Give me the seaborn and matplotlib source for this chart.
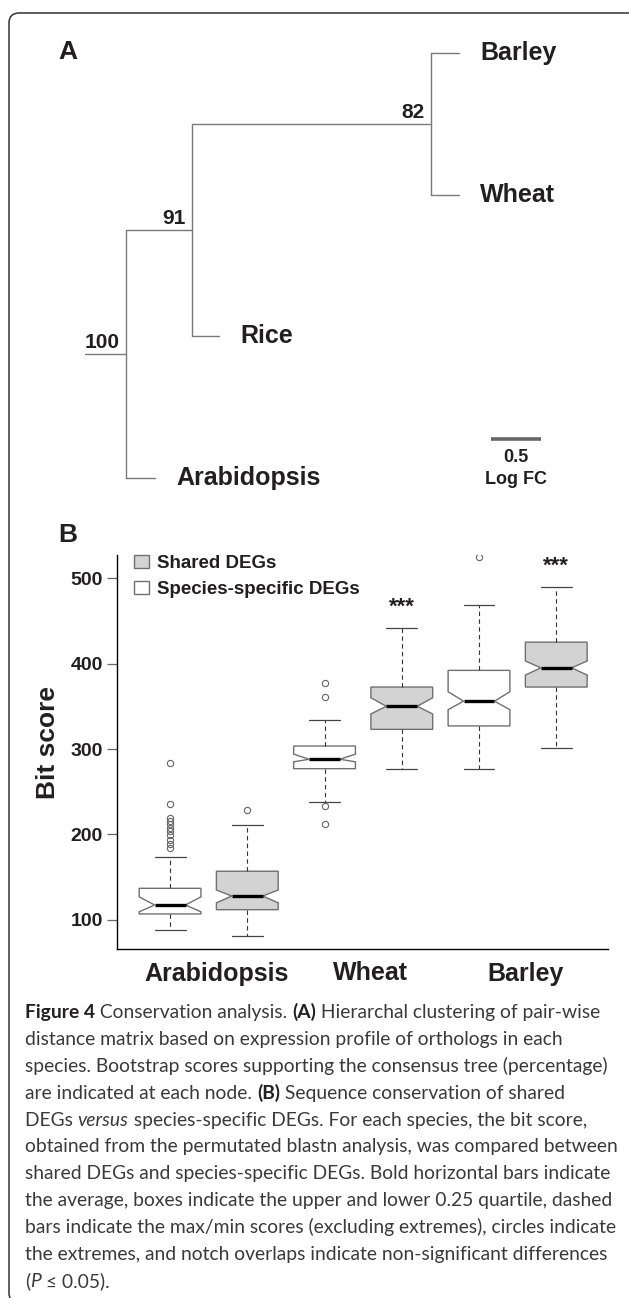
import matplotlib
matplotlib.use("Agg")
import matplotlib.pyplot as plt
from matplotlib.patches import FancyBboxPatch, Patch
import seaborn as sns
import numpy as np

# panel A: consensus tree (branch lengths in Log FC units)
node_names = ["root", "n91", "n82", "Barley", "Wheat", "Rice", "Arabidopsis"]
node_parent = [None, "root", "n91", "n82", "n82", "n91", "root"]
branch_len = [0.41, 0.66, 2.39, 0.28, 0.28, 0.27, 0.29]
bootstrap = {"root": "100", "n91": "91", "n82": "82"}
leaf_order = ["Barley", "Wheat", "Rice", "Arabidopsis"]
scale_len = 0.5

# panel B: bit score box stats, one entry per box (species-specific, shared) x species
species = ["Arabidopsis", "Wheat", "Barley"]
deg_groups = ["Species-specific DEGs", "Shared DEGs"]
whislo = [88, 81, 238, 277, 277, 301]
q1 = [107, 112, 277, 323, 327, 372.5]
med = [117.5, 128, 288, 350, 356, 395]
q3 = [137, 157, 303.5, 372.5, 392, 425]
whishi = [174, 211, 334, 441.5, 468, 489.5]
cilo = [109.5, 120, 285, 341, 346, 386.5]
cihi = [127, 135, 294, 360, 367, 403]
fliers = [[184, 189, 194, 199, 204, 208, 212, 216, 219, 236, 284],
          [229],
          [212, 233, 361, 377],
          [],
          [525],
          []]
signif = ["", "", "", "***", "", "***"]

caption_lines = [
    [("Figure 4", "bold"), (" Conservation analysis. ", "normal"), ("(A)", "bold"),
     (" Hierarchal clustering of pair-wise", "normal")],
    [("distance matrix based on expression profile of orthologs in each", "normal")],
    [("species. Bootstrap scores supporting the consensus tree (percentage)", "normal")],
    [("are indicated at each node. ", "normal"), ("(B)", "bold"),
     (" Sequence conservation of shared", "normal")],
    [("DEGs ", "normal"), ("versus", "italic"),
     (" species-specific DEGs. For each species, the bit score,", "normal")],
    [("obtained from the permutated blastn analysis, was compared between", "normal")],
    [("shared DEGs and species-specific DEGs. Bold horizontal bars indicate", "normal")],
    [("the average, boxes indicate the upper and lower 0.25 quartile, dashed", "normal")],
    [("bars indicate the max/min scores (excluding extremes), circles indicate", "normal")],
    [("the extremes, and notch overlaps indicate non-significant differences", "normal")],
    [("(", "normal"), ("P", "italic"), (" \u2264 0.05).", "normal")],
]

sns.set_theme(style="white")
plt.rcParams['font.family'] = ['Liberation Sans', 'DejaVu Sans']
ink = '#231f20'

W, H = 629, 1298
fig = plt.figure(figsize=(W / 100, H / 100), dpi=100)

# rounded frame around the whole figure (right and bottom edges run off the page)
frame = FancyBboxPatch((0.09, -0.05), 6.6, 12.9, boxstyle="round,pad=0,rounding_size=0.1",
                       transform=fig.dpi_scale_trans, facecolor='none', edgecolor='#333333', lw=1.1,
                       zorder=0)
fig.patches.append(frame)

fig.text(58 / W, 1 - 52 / H, "A", fontsize=19, fontweight='bold', color=ink, ha='left', va='center')
fig.text(58 / W, 1 - 535 / H, "B", fontsize=19, fontweight='bold', color=ink, ha='left', va='center')

# ---------------- panel A ----------------
axt = fig.add_axes([0.02, 1 - 540 / H, 0.96, 540 / H])
axt.axis('off')
axt.set_xlim(-0.85 + 0.02 * 6.29, 5.44 - 0.02 * 6.29)
axt.set_ylim(3.437, -0.374)

xpos = {}
for name, par, bl in zip(node_names, node_parent, branch_len):
    xpos[name] = bl + (xpos[par] if par else 0)
children = {n: [c for c, p in zip(node_names, node_parent) if p == n] for n in node_names}


def get_y(n):
    if n in leaf_order:
        return leaf_order.index(n)
    return np.mean([get_y(c) for c in children[n]])


ypos = {n: get_y(n) for n in node_names}
tree_col = '#7a7a7a'
# root stem
axt.plot([0, xpos["root"]], [ypos["root"]] * 2, color=tree_col, lw=1)
for name, par in zip(node_names, node_parent):
    if par is not None:
        axt.plot([xpos[par], xpos[name]], [ypos[name]] * 2, color=tree_col, lw=1)
    if children[name]:
        cy = [ypos[c] for c in children[name]]
        axt.plot([xpos[name]] * 2, [min(cy), max(cy)], color=tree_col, lw=1)

for node, lab in bootstrap.items():
    axt.annotate(lab, (xpos[node], ypos[node]), xytext=(-6, 6), textcoords='offset pixels',
                 ha='right', va='baseline', fontsize=15, fontweight='bold', color=ink)
for leaf in leaf_order:
    axt.annotate(leaf, (xpos[leaf], ypos[leaf]), xytext=(21, 0), textcoords='offset pixels',
                 ha='left', va='center', fontsize=18, fontweight='bold', color=ink)

# scale bar
sb_x0, sb_y = 4.06, 2.724
axt.plot([sb_x0, sb_x0 + scale_len], [sb_y, sb_y], color='#666666', lw=2.6, solid_capstyle='butt')
axt.annotate(f"{scale_len}", (sb_x0 + scale_len / 2, sb_y), xytext=(0, -19), textcoords='offset pixels',
             ha='center', va='center', fontsize=13, fontweight='bold', color=ink)
axt.annotate("Log FC", (sb_x0 + scale_len / 2, sb_y), xytext=(0, -41), textcoords='offset pixels',
             ha='center', va='center', fontsize=13, fontweight='bold', color=ink)

# ---------------- panel B ----------------
ax = fig.add_axes([117 / W, 1 - 949 / H, 491 / W, 394 / H])
positions = np.arange(1, len(med) + 1)
stats = [dict(whislo=whislo[i], q1=q1[i], med=med[i], q3=q3[i], whishi=whishi[i],
              cilo=cilo[i], cihi=cihi[i], fliers=fliers[i]) for i in range(len(med))]
bp = ax.bxp(stats, positions=positions, widths=0.8, shownotches=True, patch_artist=True,
            boxprops=dict(edgecolor='#707070', lw=1.0),
            medianprops=dict(color='black', lw=2.4, solid_capstyle='butt'),
            whiskerprops=dict(color='#333333', lw=0.8, linestyle=(0, (4, 3))),
            capprops=dict(color='#444444', lw=0.9),
            flierprops=dict(marker='o', markerfacecolor='none', markeredgecolor='#666666',
                            markersize=4.5, markeredgewidth=0.8))
group_colors = {"Species-specific DEGs": 'white', "Shared DEGs": '#d3d3d3'}
for i, patch in enumerate(bp['boxes']):
    patch.set_facecolor(group_colors[deg_groups[i % 2]])

for i, s in enumerate(signif):
    if s:
        ax.annotate(s, (positions[i], whishi[i]), xytext=(0, 15), textcoords='offset pixels',
                    ha='center', va='baseline', fontsize=16, fontweight='bold', color=ink)

ax.set_xlim(0.313, 6.67)
ax.set_ylim(66, 527)
ax.set_yticks([100, 200, 300, 400, 500])
ax.set_xticks(positions[::2] + 0.6)
ax.set_xticklabels(species)
for lab in ax.get_xticklabels():
    lab.set_fontsize(18)
    lab.set_fontweight('bold')
    lab.set_color(ink)
for lab in ax.get_yticklabels():
    lab.set_fontsize(14)
    lab.set_fontweight('bold')
    lab.set_color(ink)
ax.tick_params(axis='x', length=0, pad=9)
ax.tick_params(axis='y', length=7, width=0.9, color='#666666', pad=3, left=True)
ax.set_ylabel("Bit score", fontsize=19, fontweight='bold', color=ink, va='center')
ax.yaxis.set_label_coords(-0.1405, 0.523)
sns.despine(ax=ax)
for sp in ['left', 'bottom']:
    ax.spines[sp].set_color('black')
    ax.spines[sp].set_linewidth(1.0)

handles = [Patch(facecolor=group_colors[g], edgecolor='#707070', lw=1, label=g) for g in deg_groups[::-1]]
ax.legend(handles=handles, loc='upper left', bbox_to_anchor=(0.035, 1.0), frameon=False,
          prop=dict(weight='bold', size=13.5), handlelength=0.8, handleheight=0.7,
          handletextpad=0.4, labelspacing=0.48, borderpad=0, borderaxespad=0)
for t in ax.get_legend().get_texts():
    t.set_color(ink)

# ---------------- caption ----------------
cap = fig.add_axes([0.02, 0.02, 0.96, 0.96])
cap.axis('off')
cap.set_xlim(0.02 * W, 0.98 * W)
cap.set_ylim(0.98 * H, 0.02 * H)
cap_font = ['Lato', 'DejaVu Sans']
for k, line in enumerate(caption_lines):
    prev = None
    for seg, style in line:
        kw = dict(fontsize=13.9, family=cap_font, color='#3a3a3a',
                  fontweight='bold' if style == 'bold' else 'normal',
                  fontstyle='italic' if style == 'italic' else 'normal')
        if style == 'bold':
            kw['color'] = ink
        if prev is None:
            prev = cap.text(25, 1018 + 26.9 * k, seg, ha='left', va='baseline', **kw)
        else:
            prev = cap.annotate(seg, xy=(1, 0), xycoords=prev, ha='left', va='bottom',
                                annotation_clip=False, **kw)

fig.savefig("out.png", dpi=100)
